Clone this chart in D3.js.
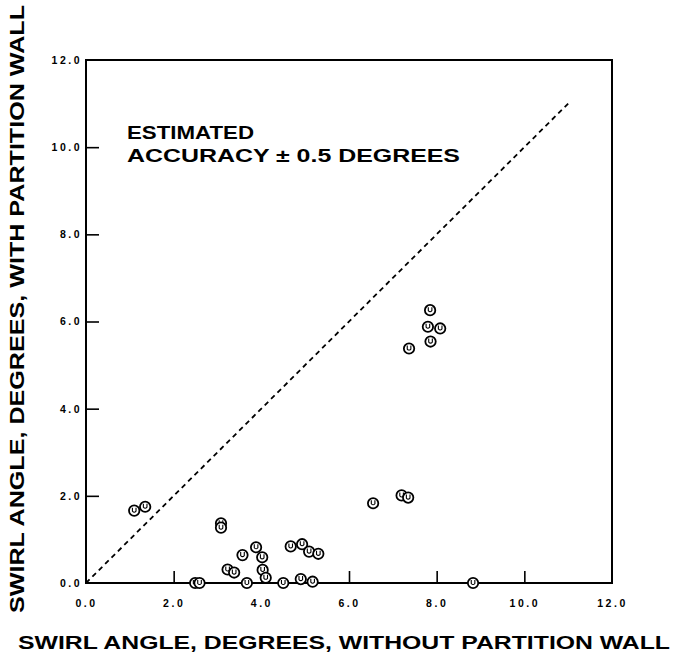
<!DOCTYPE html>
<html>
<head>
<meta charset="utf-8">
<script src="https://cdn.jsdelivr.net/npm/d3@7"></script>
<style>
  html, body { margin: 0; padding: 0; background: #fff; }
  svg { display: block; }
</style>
</head>
<body>
<svg id="chart" width="693" height="662"></svg>
<script>
// Data
const xWithout = [1.10, 1.35, 3.08, 3.08, 2.49, 2.59, 3.23, 3.38, 3.57, 3.67,
                  3.88, 4.02, 4.03, 4.10, 4.50, 4.67, 4.93, 5.09, 5.30, 4.90,
                  5.17, 6.55, 7.20, 7.35, 8.83, 7.85, 7.80, 8.08, 7.86, 7.37];
const yWith    = [1.66, 1.75, 1.37, 1.27, 0.00, 0.00, 0.31, 0.24, 0.64, 0.00,
                  0.82, 0.59, 0.30, 0.12, 0.00, 0.84, 0.89, 0.72, 0.67, 0.09,
                  0.03, 1.83, 2.01, 1.96, 0.00, 6.26, 5.88, 5.84, 5.54, 5.38];
const tickValues = [0, 2, 4, 6, 8, 10, 12];
const diagonal = [0, 11];
const xTitle = "SWIRL ANGLE, DEGREES, WITHOUT PARTITION WALL";
const yTitle = "SWIRL ANGLE, DEGREES, WITH PARTITION WALL";
const noteLines = ["ESTIMATED", "ACCURACY \u00B1 0.5 DEGREES"];

(function () {
const svg = d3.select("#chart");
const mLeft = 86, mRight = 612, mTop = 60, mBottom = 583;

const x = d3.scaleLinear().domain([0, 12]).range([mLeft, mRight]);
const y = d3.scaleLinear().domain([0, 12]).range([mBottom, mTop]);

const fmt = d3.format(".1f");
const tickFont = "'Liberation Sans', Arial, sans-serif";

// Axes
const xAxis = d3.axisBottom(x).tickValues(tickValues).tickSize(-12).tickPadding(20).tickFormat(fmt);
const yAxis = d3.axisLeft(y).tickValues(tickValues).tickSize(-13).tickPadding(17).tickFormat(fmt);

const gx = svg.append("g").attr("transform", `translate(0,${mBottom})`).call(xAxis);
const gy = svg.append("g").attr("transform", `translate(${mLeft},0)`).call(yAxis);

[gx, gy].forEach(g => {
  g.select(".domain").remove();
  g.selectAll(".tick line").attr("stroke", "#000").attr("stroke-width", 1.6);
  g.selectAll(".tick text")
    .attr("fill", "#000")
    .style("font-family", tickFont)
    .style("font-weight", "bold")
    .style("font-size", "10.5px")
    .style("letter-spacing", "2.5px");
});
gx.selectAll(".tick").filter(d => d === 0 || d === 12).select("line").remove();
gy.selectAll(".tick").filter(d => d === 0 || d === 12).select("line").remove();
gx.selectAll(".tick text").attr("dy", "0.35em").attr("y", 20);
gy.selectAll(".tick text").attr("x", -4);

// Frame
svg.append("rect")
  .attr("x", x(0)).attr("y", y(12))
  .attr("width", x(12) - x(0)).attr("height", y(0) - y(12))
  .attr("fill", "none").attr("stroke", "#000").attr("stroke-width", 2);

// Diagonal dashed line
svg.append("line")
  .attr("x1", x(diagonal[0])).attr("y1", y(diagonal[0]))
  .attr("x2", x(diagonal[1])).attr("y2", y(diagonal[1]))
  .attr("stroke", "#000").attr("stroke-width", 1.8)
  .attr("stroke-dasharray", "5,4");

// Points
const pts = xWithout.map((v, i) => ({ x: v, y: yWith[i] }));
const pg = svg.append("g").selectAll("g").data(pts).join("g")
  .attr("transform", d => `translate(${x(d.x)},${y(d.y)})`);
pg.append("circle").attr("r", 5.2)
  .attr("fill", "#fff").attr("stroke", "#000").attr("stroke-width", 1.8);
pg.append("path")
  .attr("d", "M-1.8,-3 L-1.8,0.5 Q0,2.6 1.8,0.5 L1.8,-3")
  .attr("fill", "none").attr("stroke", "#000").attr("stroke-width", 1.1);

// Annotation
const titleFont = "'Liberation Sans', Arial, Helvetica, sans-serif";
const note = svg.append("g");
note.append("text").attr("x", 127).attr("y", 139)
  .attr("textLength", 127).attr("lengthAdjust", "spacingAndGlyphs")
  .style("font-family", titleFont).style("font-weight", "bold").style("font-size", "18px")
  .text(noteLines[0]);
note.append("text").attr("x", 127).attr("y", 162)
  .attr("textLength", 333).attr("lengthAdjust", "spacingAndGlyphs")
  .style("font-family", titleFont).style("font-weight", "bold").style("font-size", "18px")
  .text(noteLines[1]);

// Axis titles
svg.append("text").attr("x", 18).attr("y", 649)
  .attr("textLength", 652).attr("lengthAdjust", "spacingAndGlyphs")
  .style("font-family", titleFont).style("font-weight", "bold").style("font-size", "18px")
  .text(xTitle);

svg.append("text")
  .attr("transform", "translate(24,613) rotate(-90)")
  .attr("textLength", 608).attr("lengthAdjust", "spacingAndGlyphs")
  .style("font-family", titleFont).style("font-weight", "bold").style("font-size", "21px")
  .text(yTitle);
})();
</script>
</body>
</html>
